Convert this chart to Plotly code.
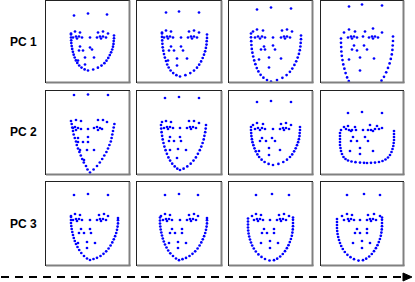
import plotly.graph_objects as go

W, H = 415, 282
row_labels = ["PC 1", "PC 2", "PC 3"]

# ---------------- PC 1 ----------------
pc1_c1_jaw_x = [25, 25, 25.2, 25.3, 25.7, 26.2, 26.9, 27.7, 28.7, 29.9, 31.3, 33.2, 35.5, 38.6, 42, 47.2, 51.9, 55.5, 58.4, 60.5, 62.3, 63.8, 65.1, 66.2, 67, 67.5, 67.7, 68, 68]
pc1_c1_jaw_y = [34, 37, 39.8, 42.6, 45.5, 48.4, 51.3, 54.2, 57, 59.9, 62.4, 65, 67.1, 68.9, 70, 69, 67.2, 65.1, 62.7, 60.2, 57.4, 54.6, 51.8, 49, 46.2, 43.4, 40.6, 37.8, 35]
pc1_c1_feat_x = [28, 42, 61, 25, 29, 34, 52, 57, 62, 27, 30, 33, 36, 31, 51, 54, 57, 60, 55, 44, 34, 44, 33, 37, 46, 32, 39, 48, 39]
pc1_c1_feat_y = [15, 13, 14, 33, 31, 32, 32, 31, 33, 37, 36, 36, 37, 38, 37, 36, 36, 37, 38, 37, 46, 47, 50, 50, 49, 60, 57, 57, 64]

pc1_c2_jaw_x = [25, 25, 25.2, 25.4, 25.7, 26.3, 27, 27.9, 29, 30.2, 31.7, 33.6, 36.2, 39.4, 43, 48.4, 53.3, 57, 60, 62.2, 64.1, 65.7, 67, 68.1, 68.9, 69.5, 69.7, 70, 70]
pc1_c2_jaw_y = [33, 36.4, 39.9, 43.3, 46.8, 50.2, 53.6, 57.1, 60.5, 64, 67, 70, 72.6, 74.7, 76, 74.7, 72.6, 70.1, 67.2, 64.2, 60.9, 57.5, 54.2, 50.8, 47.4, 44.1, 40.7, 37.4, 34]
pc1_c2_feat_x = [29, 42, 62, 25, 29, 34, 52, 57, 62, 27, 30, 33, 36, 31, 51, 54, 57, 60, 55, 44, 34, 44, 32, 37, 46, 31, 40, 50, 40]
pc1_c2_feat_y = [12, 11, 12, 32, 30, 31, 31, 30, 32, 37, 36, 36, 37, 38, 37, 36, 36, 37, 38, 37, 46, 46, 50, 50, 50, 60, 58, 58, 65]

pc1_c3_jaw_x = [22, 22, 22.2, 22.4, 22.8, 23.4, 24.2, 25.2, 26.4, 27.8, 29.4, 31.6, 34.4, 38, 42, 48, 53.4, 57.6, 60.9, 63.3, 65.4, 67.2, 68.7, 69.9, 70.8, 71.4, 71.7, 72, 72]
pc1_c3_jaw_y = [33, 36.8, 40.7, 44.5, 48.4, 52.2, 56, 59.9, 63.7, 67.6, 70.9, 74.3, 77.2, 79.6, 81, 79.6, 77.3, 74.6, 71.3, 68.1, 64.4, 60.8, 57.1, 53.4, 49.7, 46, 42.4, 38.7, 35]
pc1_c3_feat_x = [28, 42, 62, 24, 28, 34, 53, 58, 63, 26, 29, 33, 36, 31, 52, 55, 58, 61, 56, 44, 35, 44, 32, 36, 46, 30, 40, 52, 40]
pc1_c3_feat_y = [9, 7, 8, 31, 29, 30, 30, 29, 31, 37, 36, 36, 37, 38, 37, 36, 36, 37, 38, 37, 46, 45, 49, 49, 49, 59, 57, 58, 67]

pc1_c4_jaw_x = [20, 20, 20.2, 20.4, 20.8, 21.5, 22.3, 23.4, 24.6, 26.1, 27.8, 30.1, 33, 36.8, 41, 47.2, 52.8, 57.1, 60.5, 63, 65.2, 67, 68.6, 69.8, 70.8, 71.4, 71.7, 72, 72]
pc1_c4_jaw_y = [38, 42.3, 46.6, 51, 55.3, 59.6, 63.9, 68.2, 72.6, 76.9, 80.7, 84.4, 87.7, 90.4, 92, 90.3, 87.5, 84.2, 80.2, 76.3, 71.8, 67.4, 62.9, 58.4, 53.9, 49.4, 45, 40.5, 36]
pc1_c4_feat_x = [28, 41, 61, 23, 28, 34, 44, 52, 61, 27, 30, 33, 36, 31, 48, 51, 54, 57, 52, 42, 33, 43, 31, 36, 46, 28, 39, 53, 39]
pc1_c4_feat_y = [6, 4, 5, 32, 29, 31, 31, 28, 32, 37, 36, 36, 37, 38, 37, 36, 36, 37, 38, 36, 45, 45, 49, 50, 49, 59, 57, 58, 70]

# ---------------- PC 2 ----------------
pc2_c1_jaw_x = [25.7, 26.3, 27, 27.7, 28.8, 30, 30.8, 32, 33.4, 34.8, 36.2, 37.8, 40, 41.5, 44, 47.6, 51, 53.8, 56.2, 58.3, 60.4, 62, 63.4, 64.8, 65.6, 66.3, 67, 67.7, 68.4]
pc2_c1_jaw_y = [33, 36.5, 40, 43.5, 47, 50.5, 54, 57.5, 61, 64.5, 68, 71.5, 75, 78.5, 81.5, 78.5, 75, 71.5, 68, 64.5, 61, 57.5, 54, 50.5, 47, 43.5, 40, 36.5, 33]
pc2_c1_feat_x = [28, 42, 62, 25, 30, 35, 52, 57, 61, 27, 29, 32, 35, 30, 48, 51, 54, 56, 52, 42, 32, 42, 32, 37, 42, 34, 41, 48, 38]
pc2_c1_feat_y = [4, 3.5, 4, 30, 29, 30, 29, 29, 31, 37, 36, 37, 38, 39, 37, 36, 37, 38, 39, 38, 47, 46, 51, 51, 51, 59, 59, 59, 69]

pc2_c2_jaw_x = [24, 24.2, 24.6, 25.1, 25.7, 26.5, 27.4, 28.6, 29.9, 31.4, 33.1, 35.2, 37.7, 40.3, 43, 46.6, 50.3, 53.7, 56.5, 58.9, 60.9, 62.8, 64.3, 65.6, 66.7, 67.4, 68.2, 68.7, 69]
pc2_c2_jaw_y = [34, 37.6, 41.2, 44.8, 48.4, 52, 55.6, 59.2, 62.8, 66.4, 69.6, 72.7, 75.4, 77.7, 79, 77.7, 75.4, 72.7, 69.6, 66.4, 62.8, 59.2, 55.6, 52, 48.4, 44.8, 41.2, 37.6, 34]
pc2_c2_feat_x = [28, 42, 62, 25, 29, 34, 52, 57, 62, 27, 30, 33, 36, 31, 50, 53, 56, 59, 54, 43, 33, 43, 32, 37, 44, 33, 41, 49, 40]
pc2_c2_feat_y = [7, 6, 7, 31, 30, 31, 30, 30, 32, 37, 36, 36, 37, 38, 37, 36, 36, 37, 38, 37, 46, 46, 50, 50, 50, 59, 58, 59, 67]

pc2_c3_jaw_x = [22, 22, 22.2, 22.4, 22.9, 23.5, 24.4, 25.5, 26.8, 28.4, 30.1, 32.6, 35.6, 39.6, 44, 49.4, 54.3, 58, 61, 63.2, 65.1, 66.7, 68, 69.1, 69.9, 70.5, 70.7, 71, 71]
pc2_c3_jaw_y = [36, 39, 42.1, 45.1, 48.2, 51.2, 54.2, 57.3, 60.3, 63.4, 66, 68.7, 71, 72.9, 74, 72.9, 71, 68.7, 66, 63.4, 60.3, 57.3, 54.2, 51.2, 48.2, 45.1, 42.1, 39, 36]
pc2_c3_feat_x = [28, 42, 62, 24, 28, 34, 52, 57, 62, 26, 29, 33, 36, 31, 51, 54, 57, 60, 55, 44, 33, 43, 31, 37, 46, 30, 40, 51, 40]
pc2_c3_feat_y = [11, 10, 11, 34, 32, 33, 33, 32, 34, 38, 37, 37, 38, 39, 38, 37, 37, 38, 39, 38, 47, 47, 50, 50, 50, 60, 57, 59, 64]

pc2_c4_jaw_x = [20, 19, 19, 19, 19, 19, 19.5, 20, 21, 22.5, 24.5, 27, 30.5, 34.5, 39, 43, 46, 50, 54, 58, 61.5, 64.5, 67, 69, 70.5, 71.5, 72.3, 72.7, 73, 73, 73, 73]
pc2_c4_jaw_y = [39, 42, 45, 48, 51, 54, 57, 60, 63, 66, 68, 69.5, 70.5, 71.2, 71.6, 71.8, 72, 71.8, 71.6, 71, 70, 68.5, 66.5, 64, 61, 58, 55, 52, 49, 46, 43, 40]
pc2_c4_feat_x = [27, 41, 61, 23, 27, 34, 49, 56, 61, 25, 28, 31, 35, 30, 47, 50, 54, 58, 52, 42, 32, 44, 30, 36, 47, 29, 39, 52, 39]
pc2_c4_feat_y = [22, 21, 22, 36, 35, 36, 34, 35, 37, 38, 39, 39, 39, 40, 39, 39, 38, 38, 40, 39, 46, 46, 50, 50, 50, 60, 57, 60, 63]

# ---------------- PC 3 ----------------
pc3_c1_jaw_x = [25, 25, 25, 25.3, 25.7, 26.3, 27, 27.8, 28.8, 30, 31.5, 33.2, 35.3, 38, 41, 44, 47.5, 51, 54.5, 57.5, 60.2, 62.6, 64.6, 66.3, 67.8, 69.1, 70.2, 71, 71.6, 72, 72, 72]
pc3_c1_jaw_y = [35, 38, 41, 44, 47, 50, 53, 56, 59, 62, 65, 68, 71, 74, 76.5, 78, 77, 75.8, 74, 71.8, 69.3, 66.5, 63.5, 60.4, 57.3, 54.2, 51, 47.8, 44.6, 41.4, 38.2, 36]
pc3_c1_feat_x = [28, 42, 62, 25, 29, 34, 53, 58, 62, 27, 30, 33, 36, 31, 51, 54, 57, 60, 55, 44, 35, 44, 33, 38, 45, 32, 41, 49, 41]
pc3_c1_feat_y = [13, 12, 13, 34, 32, 33, 33, 32, 34, 38, 37, 37, 38, 39, 38, 37, 37, 38, 39, 38, 47, 47, 51, 51, 51, 61, 60, 61, 66]

pc3_c2_jaw_x = [23, 23, 23, 23.3, 23.7, 24.3, 25, 25.8, 26.8, 28, 29.5, 31.2, 33.3, 36, 39, 42, 45.5, 49, 52.5, 55.5, 58.2, 60.6, 62.6, 64.3, 65.8, 67.1, 68.2, 69, 69.6, 70, 70, 70]
pc3_c2_jaw_y = [35.5, 38.5, 41.5, 44.5, 47.5, 50.5, 53.5, 56.5, 59.5, 62.5, 65.5, 68.5, 71.3, 74, 76.5, 78.2, 77.2, 75.9, 74, 71.8, 69.3, 66.5, 63.5, 60.4, 57.3, 54.2, 51, 47.8, 44.6, 41.4, 38.2, 36]
pc3_c2_feat_x = [28, 42, 61, 24, 28, 33, 52, 57, 61, 26, 29, 32, 35, 30, 50, 53, 56, 59, 54, 43, 35, 45, 33, 38, 45, 32, 41, 49, 41]
pc3_c2_feat_y = [13, 12, 13, 34, 32, 33, 33, 32, 34, 38, 37, 37, 38, 39, 38, 37, 37, 38, 39, 38, 47, 47, 51, 51, 51, 61, 60, 61, 66]

pc3_c3_jaw_x = [19, 19, 19, 19, 19.2, 19.6, 20.2, 21, 22, 23.2, 24.8, 26.8, 29.4, 32.5, 36, 40.5, 45, 48.2, 51.2, 53.8, 56, 57.9, 59.5, 60.8, 61.9, 62.8, 63.4, 63.8, 64, 64, 64, 64]
pc3_c3_jaw_y = [36.5, 39.5, 42.5, 45.5, 48.5, 51.5, 54.5, 57.5, 60.5, 63.5, 66.5, 69.5, 72.4, 74.9, 77, 78.5, 78.2, 76.7, 74.5, 72, 69.2, 66.2, 63.2, 60.1, 57, 53.8, 50.6, 47.4, 44.2, 41, 37.8, 35.5]
pc3_c3_feat_x = [27, 43, 60, 23, 27, 32, 50, 55, 60, 25, 28, 31, 34, 29, 48, 51, 54, 57, 52, 41, 35, 45, 33, 38, 45, 32, 41, 49, 41]
pc3_c3_feat_y = [13, 12, 13, 34, 32, 33, 33, 32, 34, 38, 37, 37, 38, 39, 38, 37, 37, 38, 39, 38, 47, 47, 51, 51, 51, 61, 59, 61, 66]

pc3_c4_jaw_x = [16, 16, 16, 16, 16.2, 16.6, 17.2, 18, 19, 20.2, 21.8, 23.8, 26.4, 29.5, 33, 37.5, 42, 45.2, 48.2, 50.8, 53, 54.9, 56.5, 57.8, 58.9, 59.8, 60.4, 60.8, 61, 61, 61, 61]
pc3_c4_jaw_y = [37, 40, 43, 46, 49, 52, 55, 58, 61, 64, 67, 70, 72.8, 75.2, 77.2, 78.6, 78.2, 76.7, 74.5, 72, 69.2, 66.2, 63.2, 60.1, 57, 53.8, 50.6, 47.4, 44.2, 41, 37.8, 35.5]
pc3_c4_feat_x = [26, 43, 59, 21, 26, 31, 47, 53, 59, 23, 27, 30, 33, 28, 46, 49, 52, 55, 50, 39, 36, 46, 34, 39, 46, 32, 41, 49, 41]
pc3_c4_feat_y = [13, 12, 13, 34, 32, 33, 33, 32, 34, 38, 37, 37, 38, 39, 38, 37, 37, 38, 39, 38, 47, 47, 51, 51, 51, 61, 59, 61, 66]

panels = [
    [(pc1_c1_jaw_x + pc1_c1_feat_x, pc1_c1_jaw_y + pc1_c1_feat_y),
     (pc1_c2_jaw_x + pc1_c2_feat_x, pc1_c2_jaw_y + pc1_c2_feat_y),
     (pc1_c3_jaw_x + pc1_c3_feat_x, pc1_c3_jaw_y + pc1_c3_feat_y),
     (pc1_c4_jaw_x + pc1_c4_feat_x, pc1_c4_jaw_y + pc1_c4_feat_y)],
    [(pc2_c1_jaw_x + pc2_c1_feat_x, pc2_c1_jaw_y + pc2_c1_feat_y),
     (pc2_c2_jaw_x + pc2_c2_feat_x, pc2_c2_jaw_y + pc2_c2_feat_y),
     (pc2_c3_jaw_x + pc2_c3_feat_x, pc2_c3_jaw_y + pc2_c3_feat_y),
     (pc2_c4_jaw_x + pc2_c4_feat_x, pc2_c4_jaw_y + pc2_c4_feat_y)],
    [(pc3_c1_jaw_x + pc3_c1_feat_x, pc3_c1_jaw_y + pc3_c1_feat_y),
     (pc3_c2_jaw_x + pc3_c2_feat_x, pc3_c2_jaw_y + pc3_c2_feat_y),
     (pc3_c3_jaw_x + pc3_c3_feat_x, pc3_c3_jaw_y + pc3_c3_feat_y),
     (pc3_c4_jaw_x + pc3_c4_feat_x, pc3_c4_jaw_y + pc3_c4_feat_y)],
]

# panel frames in pixels (left, right) / (top, bottom)
col_px = [(46, 129), (137, 221), (229, 312), (321, 403)]
row_px = [(0.5, 82), (91, 174), (182, 265)]

fig = go.Figure()
layout = {}
shapes = []
for r in range(3):
    for c in range(4):
        i = r * 4 + c + 1
        sx = "" if i == 1 else str(i)
        xa, ya = "x" + sx, "y" + sx
        xs, ys = panels[r][c]
        fig.add_trace(go.Scatter(
            x=xs, y=ys, mode="markers", xaxis=xa, yaxis=ya,
            marker=dict(size=2.7, color="#0000ff", line=dict(width=0)),
            hoverinfo="skip", showlegend=False, cliponaxis=True))
        x0, x1 = col_px[c]
        y0, y1 = row_px[r]
        layout["xaxis" + sx] = dict(domain=[x0 / W, x1 / W], range=[0, x1 - x0],
                                    showgrid=False, zeroline=False, showticklabels=False,
                                    ticks="", showline=True, mirror=True,
                                    linecolor="#222222", linewidth=1.3, anchor=ya,
                                    fixedrange=True)
        layout["yaxis" + sx] = dict(domain=[1 - y1 / H, 1 - y0 / H], range=[y1 - y0, 0],
                                    showgrid=False, zeroline=False, showticklabels=False,
                                    ticks="", showline=True, mirror=True,
                                    linecolor="#222222", linewidth=1.3, anchor=xa,
                                    fixedrange=True)
        # grey right / bottom edges
        shapes.append(dict(type="line", xref="paper", yref="paper",
                           x0=(x1 + 0.5) / W, x1=(x1 + 0.5) / W,
                           y0=1 - (y1 + 1) / H, y1=1 - y0 / H,
                           line=dict(color="#808080", width=2)))
        shapes.append(dict(type="line", xref="paper", yref="paper",
                           x0=x0 / W, x1=(x1 + 1.5) / W,
                           y0=1 - (y1 + 0.5) / H, y1=1 - (y1 + 0.5) / H,
                           line=dict(color="#808080", width=2)))

# dashed arrow along the bottom
ay = 277
shapes.append(dict(type="line", xref="paper", yref="paper",
                   x0=1 / W, x1=404 / W, y0=1 - ay / H, y1=1 - ay / H,
                   line=dict(color="black", width=2, dash="8px,6px")))
shapes.append(dict(type="path", xref="paper", yref="paper",
                   path="M {:.5f},{:.5f} L {:.5f},{:.5f} L {:.5f},{:.5f} Z".format(
                       403 / W, 1 - 273 / H, 412 / W, 1 - ay / H, 403 / W, 1 - 281 / H),
                   fillcolor="black", line=dict(color="black", width=1)))

annotations = []
row_centers = [42, 132, 224]
for lab, yc in zip(row_labels, row_centers):
    annotations.append(dict(text="<b>" + lab + "</b>", xref="paper", yref="paper",
                            x=23 / W, y=1 - yc / H, xanchor="center", yanchor="middle",
                            showarrow=False,
                            font=dict(family="Liberation Sans, Arial, sans-serif",
                                      size=12, color="black")))

fig.update_layout(width=W, height=H, margin=dict(l=0, r=0, t=0, b=0),
                  paper_bgcolor="white", plot_bgcolor="white",
                  shapes=shapes, annotations=annotations, **layout)
fig.write_html("out.html", config={"displayModeBar": False, "responsive": False},
               post_script="document.body.style.margin='0';document.body.style.padding='0';document.body.style.overflow='hidden';")
